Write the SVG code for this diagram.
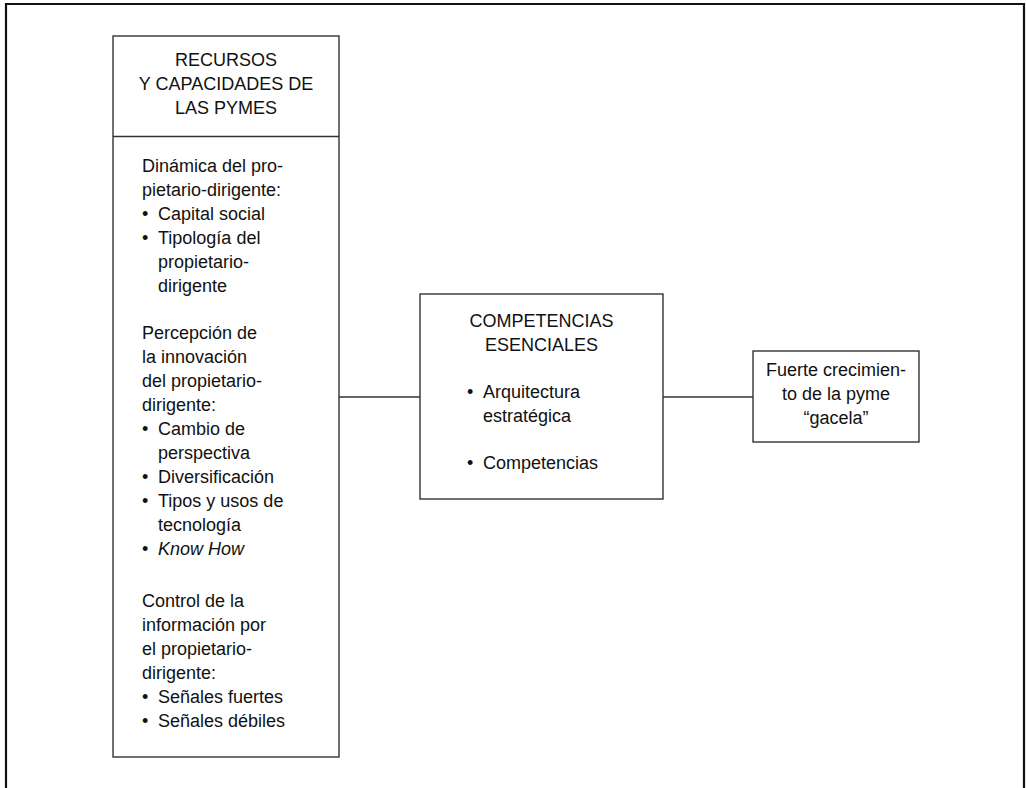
<svg xmlns="http://www.w3.org/2000/svg" width="1026" height="788" viewBox="0 0 1026 788">
<style>
.box{fill:#fff;stroke:#333;stroke-width:1.4}
.ln{stroke:#333;stroke-width:1.4;fill:none}
text{font-family:"Liberation Sans",Arial,sans-serif;font-size:18px;fill:#111}
.c{text-anchor:middle}
</style>
<rect x="0" y="0" width="1026" height="788" fill="#fff"/>
<path d="M6,788 V4 H1024 V788" fill="none" stroke="#111" stroke-width="2.2"/>
<g id="connectors">
<line class="ln" x1="339" y1="397" x2="420" y2="397"/>
<line class="ln" x1="663" y1="397" x2="753" y2="397"/>
</g>
<g id="recursos">
<rect class="box" x="113" y="36" width="226" height="721"/>
<line class="ln" x1="113" y1="136.5" x2="339" y2="136.5"/>
<text class="c"><tspan x="226" y="66">RECURSOS</tspan><tspan x="226" y="90">Y CAPACIDADES DE</tspan><tspan x="226" y="114">LAS PYMES</tspan></text>
<text>
<tspan x="142" y="172">Dinámica del pro-</tspan>
<tspan x="142" y="196">pietario-dirigente:</tspan>
<tspan x="142" y="220">•</tspan><tspan x="158" y="220">Capital social</tspan>
<tspan x="142" y="244">•</tspan><tspan x="158" y="244">Tipología del</tspan>
<tspan x="158" y="268">propietario-</tspan>
<tspan x="158" y="292">dirigente</tspan>
<tspan x="142" y="339">Percepción de</tspan>
<tspan x="142" y="363">la innovación</tspan>
<tspan x="142" y="387">del propietario-</tspan>
<tspan x="142" y="411">dirigente:</tspan>
<tspan x="142" y="435">•</tspan><tspan x="158" y="435">Cambio de</tspan>
<tspan x="158" y="459">perspectiva</tspan>
<tspan x="142" y="483">•</tspan><tspan x="158" y="483">Diversificación</tspan>
<tspan x="142" y="507">•</tspan><tspan x="158" y="507">Tipos y usos de</tspan>
<tspan x="158" y="531">tecnología</tspan>
<tspan x="142" y="555">•</tspan><tspan x="158" y="555" font-style="italic">Know How</tspan>
<tspan x="142" y="607">Control de la</tspan>
<tspan x="142" y="631">información por</tspan>
<tspan x="142" y="655">el propietario-</tspan>
<tspan x="142" y="679">dirigente:</tspan>
<tspan x="142" y="703">•</tspan><tspan x="158" y="703">Señales fuertes</tspan>
<tspan x="142" y="727">•</tspan><tspan x="158" y="727">Señales débiles</tspan>
</text>
</g>
<g id="competencias">
<rect class="box" x="420" y="294" width="243" height="205"/>
<text class="c"><tspan x="541.5" y="327">COMPETENCIAS</tspan><tspan x="541.5" y="351">ESENCIALES</tspan></text>
<text>
<tspan x="467" y="398">•</tspan><tspan x="483" y="398">Arquitectura</tspan>
<tspan x="483" y="422">estratégica</tspan>
<tspan x="467" y="469">•</tspan><tspan x="483" y="469">Competencias</tspan>
</text>
</g>
<g id="crecimiento">
<rect class="box" x="753" y="351" width="166" height="91"/>
<text class="c"><tspan x="836" y="376">Fuerte crecimien-</tspan><tspan x="836" y="400">to de la pyme</tspan><tspan x="836" y="424">“gacela”</tspan></text>
</g>
</svg>
